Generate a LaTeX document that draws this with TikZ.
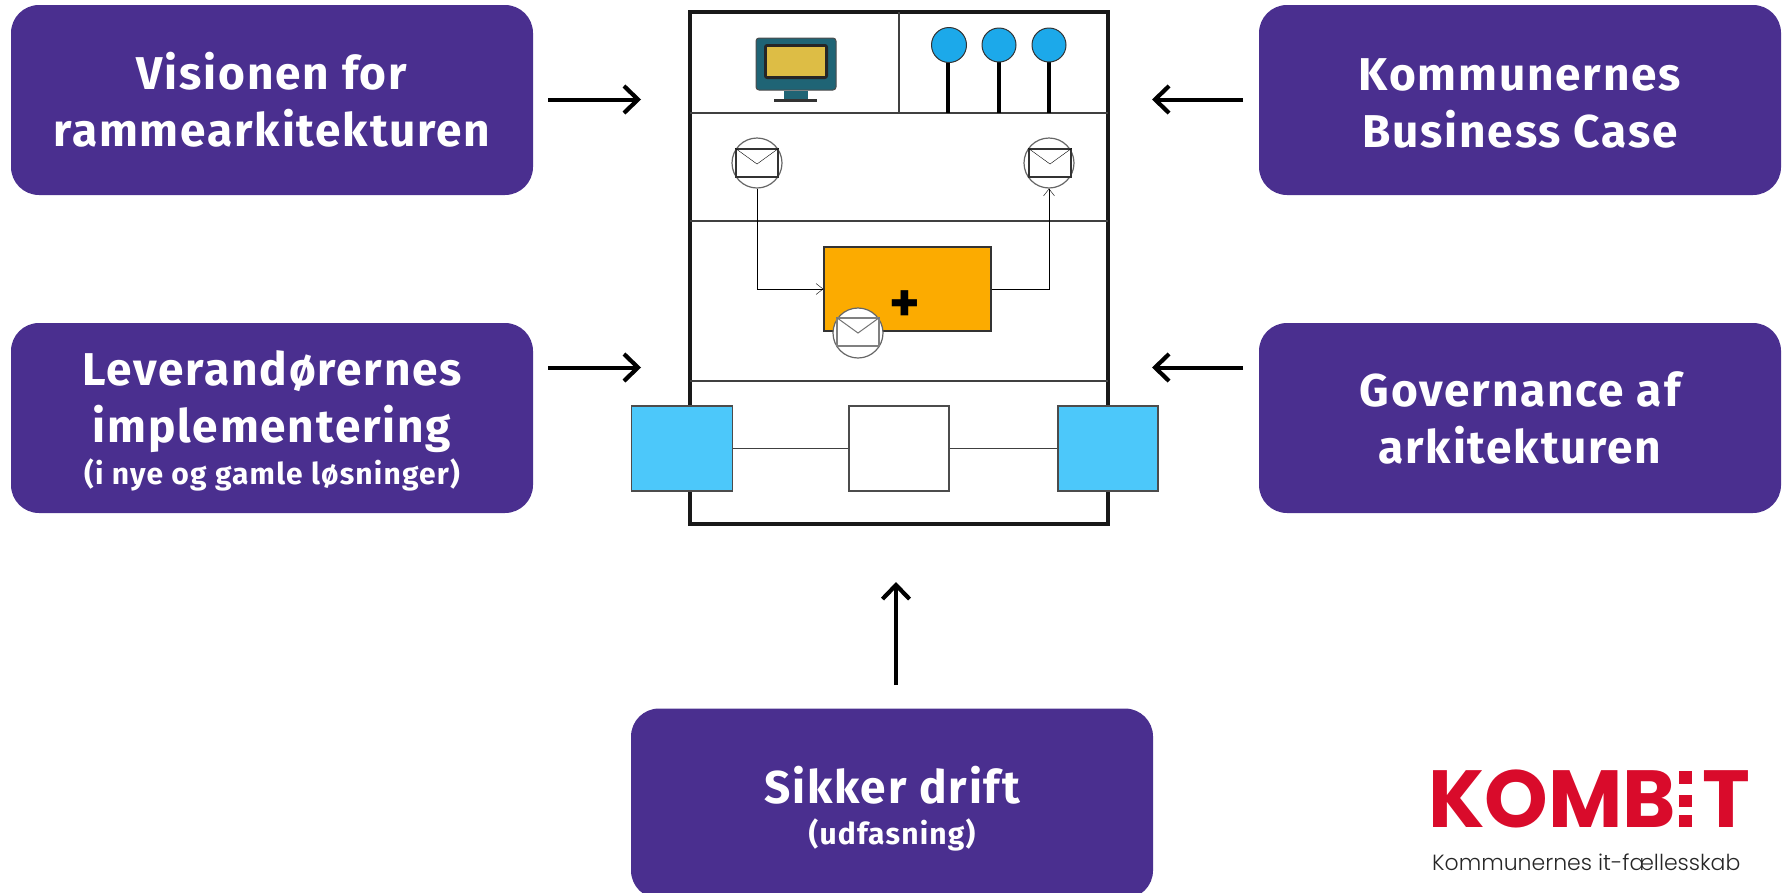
\documentclass[tikz,border=0pt]{standalone}
\usepackage{fontspec}
\setmainfont{Fira Sans}
\newfontfamily\boxfont[LetterSpace=4]{Fira Sans}
\newfontfamily\logofont{Poppins}
\newfontfamily\tagfont{Poppins Light}
\usetikzlibrary{arrows.meta}
\definecolor{purp}{HTML}{4A2F8F}
\definecolor{kred}{HTML}{D90B2B}
\definecolor{orng}{HTML}{FCAB00}
\definecolor{sky}{HTML}{4CC8FA}
\definecolor{dot}{HTML}{1CA9EA}
\definecolor{teal2}{HTML}{1F6475}
\definecolor{scr}{HTML}{DDBD45}
\definecolor{thin}{HTML}{666666}
\tikzset{
  pbox/.style={fill=purp,rounded corners=28pt,minimum width=522pt,minimum height=190pt,inner sep=0pt},
  ptext/.style={inner sep=0pt,text=white,align=center,font=\boxfont\fontsize{46}{57}\selectfont\bfseries},
  bigarrow/.style={line width=4pt,-{Straight Barb[length=14pt,width=27pt,line width=4.2pt]}},
  frameline/.style={line width=4.5pt,black!90},
  secline/.style={line width=2pt,black!75},
  stick/.style={line width=4.5pt,black},
  pin/.style={circle,draw=black!80,line width=1pt,fill=dot,minimum size=35pt,inner sep=0pt},
  msg/.style={circle,draw=thin,line width=1.2pt,fill=white,minimum size=50pt,inner sep=0pt},
  env/.style={draw=black!80,line width=1.3pt,fill=white,minimum width=42pt,minimum height=28pt,inner sep=0pt},
  flow/.style={line width=1.5pt,thin},
  blu/.style={draw=black!70,line width=1.3pt,fill=sky,minimum width=101pt,minimum height=85pt,inner sep=0pt},
}
\newcommand{\smalltxt}[1]{{\boxfont\fontsize{30}{36}\selectfont\bfseries #1}}
\begin{document}
\begin{tikzpicture}[x=1pt,y=-1pt]
\useasboundingbox (0,0) rectangle (1787,892);
\clip (0,0) rectangle (1787,892);
% purple boxes
\node[pbox] (vision) at (272,100) {};
\node[ptext] at (vision.center) {Visionen for\\rammearkitekturen};
\node[pbox] (lev) at (272,418) {};
\node[ptext] at ([yshift=-3pt]lev.center) {Leverandørernes\\implementering\\[-15pt]\smalltxt{(i nye og gamle løsninger)}};
\node[pbox] (kom) at (1520,100) {};
\node[ptext] at ([yshift=-3pt]kom.center) {Kommunernes\\Business Case};
\node[pbox] (gov) at (1520,418) {};
\node[ptext] at (gov.center) {Governance af\\arkitekturen};
\node[pbox] (sik) at (892,803.5) {};
\node[ptext] at ([yshift=-5pt]sik.center) {Sikker drift\\[-16pt]\smalltxt{(udfasning)}};
% frame
\draw[frameline] (690,12) rectangle (1108,524);
\draw[secline] (690,113) -- (1108,113);
\draw[secline] (690,221) -- (1108,221);
\draw[secline] (690,381) -- (1108,381);
\draw[secline] (899,12) -- (899,113);
% monitor
\fill[teal2] (784,91) rectangle (808,100);
\draw[line width=2.5pt,black!80] (774,100.5) -- (817,100.5);
\fill[teal2,draw=black!70,line width=1pt,rounded corners=3pt] (756,38) rectangle (836,90);
\fill[black!85,rounded corners=3pt] (764,44) rectangle (828,79);
\fill[scr] (767,47) rectangle (825,76);
% pins
\draw[stick] (948,45) -- (948,113);
\draw[stick] (999,45) -- (999,113);
\draw[stick] (1049,45) -- (1049,113);
\node[pin] (p1) at (949,45) {};
\node[pin,minimum size=34pt] (p2) at (999,45) {};
\node[pin,minimum size=34pt] (p3) at (1049,45) {};
% message events
\node[msg] (m1) at (757,163) {};
\node[msg] (m2) at (1049,163) {};
\node[env] (e1) at (757,163) {};
\node[env] (e2) at (1050,163) {};
\draw[line width=1.1pt,thin] (e1.north west) -- (757,164) -- (e1.north east);
\draw[line width=1.1pt,thin] (e2.north west) -- (1050,164) -- (e2.north east);
% task
\node[draw=black!80,line width=1.3pt,fill=orng,minimum width=167pt,minimum height=84pt,inner sep=0pt] (task) at (907.5,289) {};
\draw[flow,-{Straight Barb[length=7pt,width=11pt]}] (m1.south) |- (task.west);
\draw[flow,-{Straight Barb[length=7pt,width=11pt]}] (task.east) -| (m2.south);
\node[font=\fontsize{58}{58}\selectfont\bfseries,inner sep=0pt] (plus) at (905,307) {+};
\node[msg] (m3) at (858,333) {};
\node[env,draw=black!50,line width=1.1pt] (e3) at (858,332) {};
\draw[line width=1pt,black!55] (e3.north west) -- (858,333) -- (e3.north east);
% apps
\node[blu] (b1) at (682,448.5) {};
\node[blu,fill=sky,minimum width=100pt] (b2) at (1108,448.5) {};
\node[draw=black!70,line width=1.3pt,fill=white,minimum width=100pt,minimum height=85pt,inner sep=0pt] (w) at (899,448.5) {};
\draw[line width=1.2pt,black!75] (b1.east) -- (w.west);
\draw[line width=1.2pt,black!75] (w.east) -- (b2.west);
% big arrows
\coordinate (a1) at (548,99.5); \coordinate (a1e) at (641,99.5);
\coordinate (a2) at (548,367.5); \coordinate (a2e) at (641,367.5);
\coordinate (a3) at (1243,99.5); \coordinate (a3e) at (1152,99.5);
\coordinate (a4) at (1243,367.5); \coordinate (a4e) at (1152,367.5);
\coordinate (a5) at (896,685); \coordinate (a5e) at (896,582);
\draw[bigarrow] (a1) -- (a1e);
\draw[bigarrow] (a2) -- (a2e);
\draw[bigarrow] (a3) -- (a3e);
\draw[bigarrow] (a4) -- (a4e);
\draw[bigarrow] (a5) -- (a5e);
% logo
\node[anchor=base west,inner sep=0pt,text=kred,font=\logofont\fontsize{81}{81}\selectfont\bfseries] (kombi) at (1428,827) {KOMB};
\fill[kred] (1679,771) rectangle (1692,784);
\fill[kred] (1679,795) rectangle (1692,807);
\fill[kred] (1679,815) rectangle (1692,827);
\node[anchor=base west,inner sep=0pt,text=kred,font=\logofont\fontsize{81}{81}\selectfont\bfseries] (kt) at (1702,827) {T};
\node[anchor=base west,inner sep=0pt,text=black!85,font=\tagfont\fontsize{22}{24}\selectfont] (tag) at (1432,870) {Kommunernes it-fællesskab};
\end{tikzpicture}
\end{document}
